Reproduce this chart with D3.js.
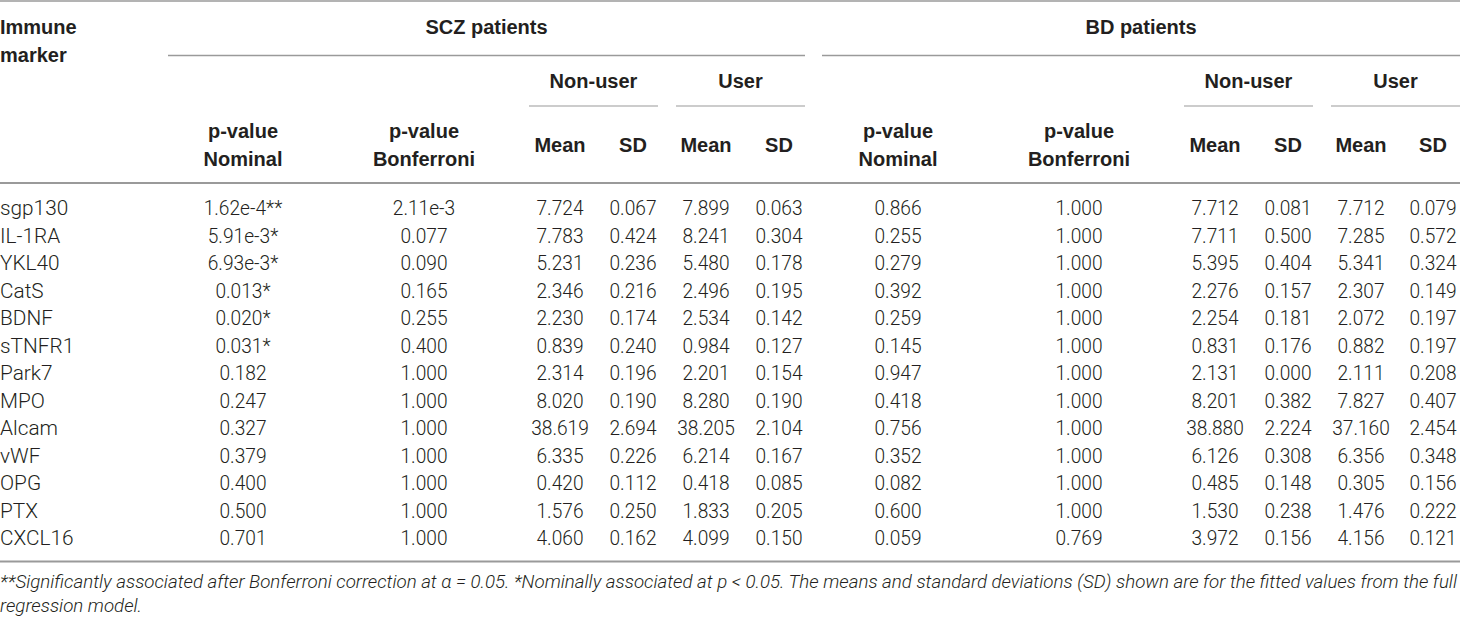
<!DOCTYPE html>
<html>
<head>
<meta charset="utf-8">
<script src="https://cdn.jsdelivr.net/npm/d3@7/dist/d3.min.js"></script>
<style>
  html, body { margin: 0; padding: 0; background: #fff; }
  svg { display: block; }
  .hdr { font-family: "Liberation Sans", Arial, sans-serif; font-weight: bold; font-size: 20px; fill: #231f20; }
  .cell { font-family: Roboto, "Liberation Sans", sans-serif; font-weight: 300; font-size: 20.8px; fill: #231f20; }
  .note { font-family: Roboto, "Liberation Sans", sans-serif; font-weight: 300; font-style: italic; font-size: 18.5px; fill: #231f20; }
</style>
</head>
<body>
<svg id="chart" width="1460" height="618"></svg>
<script>
// ---------- data ----------
const markers = ["sgp130","IL-1RA","YKL40","CatS","BDNF","sTNFR1","Park7","MPO","Alcam","vWF","OPG","PTX","CXCL16"];
const sczNominal    = ["1.62e-4**","5.91e-3*","6.93e-3*","0.013*","0.020*","0.031*","0.182","0.247","0.327","0.379","0.400","0.500","0.701"];
const sczBonferroni = ["2.11e-3","0.077","0.090","0.165","0.255","0.400","1.000","1.000","1.000","1.000","1.000","1.000","1.000"];
const sczNonUserMean = [7.724,7.783,5.231,2.346,2.230,0.839,2.314,8.020,38.619,6.335,0.420,1.576,4.060];
const sczNonUserSD   = [0.067,0.424,0.236,0.216,0.174,0.240,0.196,0.190,2.694,0.226,0.112,0.250,0.162];
const sczUserMean    = [7.899,8.241,5.480,2.496,2.534,0.984,2.201,8.280,38.205,6.214,0.418,1.833,4.099];
const sczUserSD      = [0.063,0.304,0.178,0.195,0.142,0.127,0.154,0.190,2.104,0.167,0.085,0.205,0.150];
const bdNominal      = ["0.866","0.255","0.279","0.392","0.259","0.145","0.947","0.418","0.756","0.352","0.082","0.600","0.059"];
const bdBonferroni   = ["1.000","1.000","1.000","1.000","1.000","1.000","1.000","1.000","1.000","1.000","1.000","1.000","0.769"];
const bdNonUserMean  = [7.712,7.711,5.395,2.276,2.254,0.831,2.131,8.201,38.880,6.126,0.485,1.530,3.972];
const bdNonUserSD    = [0.081,0.500,0.404,0.157,0.181,0.176,0.000,0.382,2.224,0.308,0.148,0.238,0.156];
const bdUserMean     = [7.712,7.285,5.341,2.307,2.072,0.882,2.111,7.827,37.160,6.356,0.305,1.476,4.156];
const bdUserSD       = [0.079,0.572,0.324,0.149,0.197,0.197,0.208,0.407,2.454,0.348,0.156,0.222,0.121];

const columnKeys = ["marker","sczNom","sczBon","sczNM","sczNS","sczUM","sczUS","bdNom","bdBon","bdNM","bdNS","bdUM","bdUS"];
const columnHeaders = [["Immune","marker"],["p-value","Nominal"],["p-value","Bonferroni"],["Mean"],["SD"],["Mean"],["SD"],
                       ["p-value","Nominal"],["p-value","Bonferroni"],["Mean"],["SD"],["Mean"],["SD"]];
const groupLabels = ["SCZ patients","BD patients"];
const subGroupLabels = ["Non-user","User","Non-user","User"];
const footnote1 = "**Significantly associated after Bonferroni correction at \u03b1 = 0.05. *Nominally associated at p < 0.05. The means and standard deviations (SD) shown are for the fitted values from the full";
const footnote2 = "regression model.";

// ---------- layout ----------
const W = 1460;
const svg = d3.select("#chart");
const fmt = d3.format(".3f");
const squeeze = 0.92;

// column centers (layout)
const colX = d3.scaleOrdinal().domain(columnKeys)
  .range([0, 243, 424, 560, 633, 706, 779, 898, 1079, 1215, 1288, 1361, 1433]);
// row baselines
const rowY = d3.scalePoint().domain(markers).range([215.3, 545]);

const lineColor = "#9a9a9a";
function hline(x1, x2, y, w) {
  svg.append("line").attr("x1", x1).attr("x2", x2).attr("y1", y).attr("y2", y)
    .attr("stroke", lineColor).attr("stroke-width", w);
}

// rules
hline(0, W, 1, 1.5);
hline(168, 805, 55.5, 1.3);
hline(822, W, 55.5, 1.3);
const subSpans = [[529, 658], [676, 805], [1184, 1313], [1331, W]];
subSpans.forEach(s => hline(s[0], s[1], 106, 1.2));
hline(0, W, 183, 2);
hline(0, W, 561.5, 2);

// group headers
const groupSpans = [[168, 805], [822, W]];
svg.selectAll("text.grp").data(groupLabels).join("text")
  .attr("class", "hdr grp").attr("text-anchor", "middle")
  .attr("x", (d, i) => (groupSpans[i][0] + groupSpans[i][1]) / 2)
  .attr("y", 33.5).text(d => d);

svg.selectAll("text.sub").data(subGroupLabels).join("text")
  .attr("class", "hdr sub").attr("text-anchor", "middle")
  .attr("x", (d, i) => (subSpans[i][0] + subSpans[i][1]) / 2)
  .attr("y", 88).text(d => d);

// column headers
columnKeys.forEach((k, i) => {
  const lines = columnHeaders[i];
  const anchor = i === 0 ? "start" : "middle";
  let ys;
  if (i === 0) ys = [33.5, 61.5];
  else if (lines.length === 2) ys = [138, 165.5];
  else ys = [152];
  lines.forEach((t, j) => {
    svg.append("text").attr("class", "hdr").attr("text-anchor", anchor)
      .attr("x", colX(k)).attr("y", ys[j]).text(t);
  });
});

// body cells
const columns = [
  markers, sczNominal, sczBonferroni,
  sczNonUserMean.map(fmt), sczNonUserSD.map(fmt), sczUserMean.map(fmt), sczUserSD.map(fmt),
  bdNominal, bdBonferroni,
  bdNonUserMean.map(fmt), bdNonUserSD.map(fmt), bdUserMean.map(fmt), bdUserSD.map(fmt)
];
columns.forEach((vals, ci) => {
  const sel = svg.append("g").selectAll("text").data(vals).join("text")
    .attr("class", "cell")
    .attr("text-anchor", ci === 0 ? "start" : "middle")
    .attr("x", colX(columnKeys[ci]))
    .attr("y", (d, ri) => rowY(markers[ri]))
    .text(d => d);
  if (ci > 0) {
    sel.each(function() {
      const L = this.getComputedTextLength();
      d3.select(this).attr("textLength", L * squeeze).attr("lengthAdjust", "spacingAndGlyphs");
    });
  }
});

// footnotes
const n1 = svg.append("text").attr("class", "note").attr("x", 0).attr("y", 588).text(footnote1);
const ratio = 1457 / n1.node().getComputedTextLength();
n1.attr("textLength", 1457).attr("lengthAdjust", "spacingAndGlyphs");
const n2 = svg.append("text").attr("class", "note").attr("x", 0).attr("y", 612).text(footnote2);
n2.attr("textLength", n2.node().getComputedTextLength() * ratio).attr("lengthAdjust", "spacingAndGlyphs");
</script>
</body>
</html>
